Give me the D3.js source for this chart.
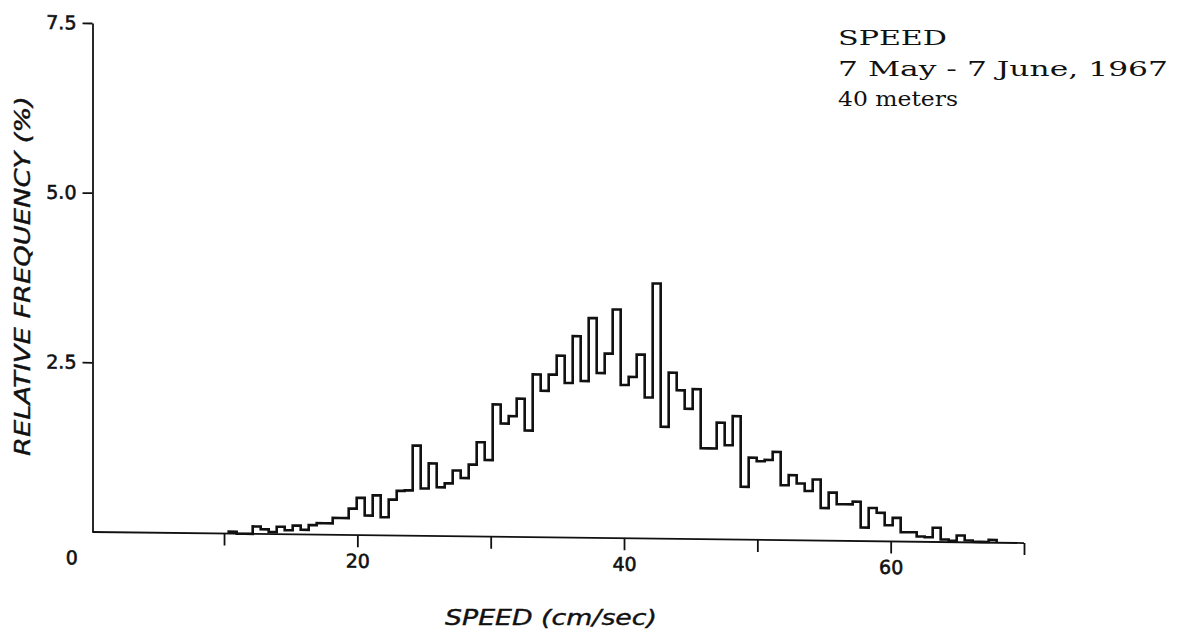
<!DOCTYPE html>
<html>
<head>
<meta charset="utf-8">
<script src="https://cdn.jsdelivr.net/npm/d3@7/dist/d3.min.js"></script>
<style>
  html, body { margin: 0; padding: 0; background: #ffffff; }
  svg { display: block; }
</style>
</head>
<body>
<div id="chart"></div>
<script>
// ---------------- data ----------------
const binStart = 10.35;          // left edge of first bin (cm/sec)
const binWidth = 0.6;            // bin width (cm/sec)
const frequency = [              // relative frequency (%) per bin
  0.03, 0, 0, 0.11, 0.07, 0.03, 0.11, 0.06, 0.13, 0.07,
  0.14, 0.17, 0.17, 0.25, 0.25, 0.39, 0.55, 0.29, 0.59, 0.27,
  0.53, 0.66, 0.67, 1.33, 0.70, 1.07, 0.72, 0.78, 0.97, 0.86,
  1.06, 1.39, 1.13, 1.95, 1.67, 1.78, 2.04, 1.57, 2.40, 2.16,
  2.40, 2.68, 2.28, 2.97, 2.31, 3.24, 2.43, 2.72, 3.37, 2.26,
  2.38, 2.71, 2.08, 3.76, 1.65, 2.45, 2.19, 1.92, 2.21, 1.34,
  1.34, 1.72, 1.39, 1.82, 0.78, 1.21, 1.16, 1.18, 1.30, 0.81,
  0.96, 0.84, 0.73, 0.90, 0.48, 0.71, 0.54, 0.54, 0.58, 0.20,
  0.49, 0.42, 0.24, 0.35, 0.14, 0.14, 0.08, 0.07, 0.21, 0.04,
  0.02, 0.10, 0.03, 0.01, 0.01, 0.04
];
const xTicks = [10, 20, 30, 40, 50, 60, 70];
const xTickLabels = [20, 40, 60];
const yTicks = [2.5, 5.0, 7.5];
const titleLines = ["SPEED", "7 May - 7 June, 1967", "40 meters"];
const xTitle = "SPEED (cm/sec)";
const yTitle = "RELATIVE FREQUENCY (%)";

// ---------------- layout ----------------
const W = 1185, H = 632;
const svg = d3.select("#chart").append("svg")
  .attr("width", W).attr("height", H)
  .attr("viewBox", `0 0 ${W} ${H}`);

const x = d3.scaleLinear().domain([0, 70]).range([90.7, 1024]);
const y = d3.scaleLinear().domain([0, 7.5]).range([532, 23]);
const yAxisX = 92.5;
const ink = "#111";

function tickFont(sel) {
  sel.attr("fill", ink)
    .attr("stroke", ink).attr("stroke-width", 0.6)
    .style("font-family", "'DejaVu Sans', sans-serif")
    .style("font-size", "19px");
}

// the scanned original is slightly tilted: baseline drops to the right
const plot = svg.append("g")
  .attr("transform", `translate(${yAxisX},0) skewY(0.68) translate(${-yAxisX},0)`);

// x axis
const xAxis = d3.axisBottom(x)
  .tickValues(xTicks)
  .tickSize(12)
  .tickSizeOuter(0)
  .tickPadding(7)
  .tickFormat(d => xTickLabels.includes(d) ? String(d) : "");
const gx = plot.append("g")
  .attr("transform", `translate(0,${y(0)})`)
  .call(xAxis);
gx.select(".domain").attr("stroke", ink).attr("stroke-width", 1.8)
  .attr("d", `M${yAxisX},0H${x(70)}`);
gx.selectAll(".tick line").attr("stroke", ink).attr("stroke-width", 1.8);
gx.selectAll(".tick text").call(tickFont);
// the "0" label sits left of the origin
gx.append("text")
  .attr("x", x(0) - 19).attr("y", 19).attr("dy", "0.71em")
  .attr("text-anchor", "middle")
  .call(tickFont)
  .text("0");

// y axis
const yAxis = d3.axisLeft(y)
  .tickValues(yTicks)
  .tickSize(10)
  .tickSizeOuter(0)
  .tickPadding(6)
  .tickFormat(d3.format(".1f"));
const gy = plot.append("g")
  .attr("transform", `translate(${yAxisX},0)`)
  .call(yAxis);
gy.select(".domain").attr("stroke", ink).attr("stroke-width", 1.8);
gy.selectAll(".tick line").attr("stroke", ink).attr("stroke-width", 1.8);
gy.selectAll(".tick text").call(tickFont);

// histogram outline (step line)
const pts = [];
frequency.forEach((v, i) => {
  const x0 = binStart + i * binWidth, x1 = x0 + binWidth;
  if (i === 0) pts.push([x0, 0]);
  pts.push([x0, v]);
  pts.push([x1, v]);
  if (i === frequency.length - 1) pts.push([x1, 0]);
});
const line = d3.line().x(d => x(d[0])).y(d => y(d[1]));
plot.append("path")
  .datum(pts)
  .attr("d", line)
  .attr("fill", "none")
  .attr("stroke", ink)
  .attr("stroke-width", 2.6)
  .attr("stroke-linejoin", "miter");

// axis titles
svg.append("text")
  .attr("x", 445).attr("y", 625)
  .attr("textLength", 212).attr("lengthAdjust", "spacingAndGlyphs")
  .attr("fill", ink).attr("stroke", ink).attr("stroke-width", 0.4)
  .style("font-family", "'DejaVu Sans', sans-serif")
  .style("font-style", "italic")
  .style("font-size", "22px")
  .text(xTitle);

svg.append("text")
  .attr("transform", "translate(30,456) rotate(-90)")
  .attr("x", 0).attr("y", 0)
  .attr("textLength", 360).attr("lengthAdjust", "spacingAndGlyphs")
  .attr("fill", ink).attr("stroke", ink).attr("stroke-width", 0.4)
  .style("font-family", "'DejaVu Sans', sans-serif")
  .style("font-style", "italic")
  .style("font-size", "22px")
  .text(yTitle);

// annotation (top right)
const titleY = [45, 76, 106];
const titleW = [109, 330, 120];
titleLines.forEach((t, i) => {
  svg.append("text")
    .attr("x", 838).attr("y", titleY[i])
    .attr("textLength", titleW[i]).attr("lengthAdjust", "spacingAndGlyphs")
    .attr("fill", ink)
    .style("font-family", "'DejaVu Serif', serif")
    .style("font-size", "20px")
    .text(t);
});
</script>
</body>
</html>
